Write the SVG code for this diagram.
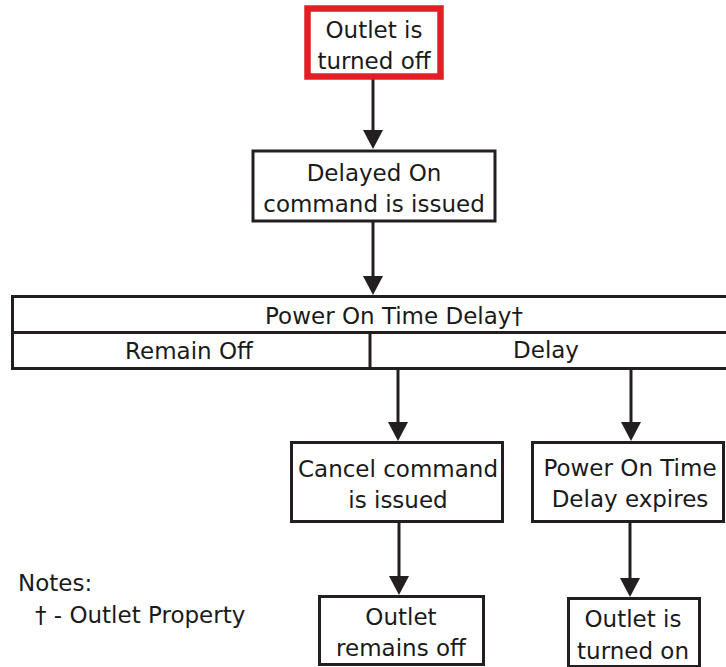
<svg xmlns="http://www.w3.org/2000/svg" width="726" height="667" viewBox="0 0 726 667">
  <style>
    .box { fill: #ffffff; stroke: #231f20; stroke-width: 3; }
    .start { fill: #ffffff; stroke: #e31e24; stroke-width: 6.5; }
    .edge { fill: none; stroke: #231f20; stroke-width: 3; }
    text { font-family: "DejaVu Sans", Verdana, sans-serif; font-size: 23px; fill: #1a1a1a; text-anchor: middle; }
    .note { text-anchor: start; }
  </style>
  <rect width="726" height="667" fill="#ffffff"/>

  <!-- connectors: shafts with filled triangular heads -->
  <g id="connectors" fill="#231f20">
    <line class="edge" x1="373" y1="79" x2="373" y2="132"/>
    <path d="M363,130 L383,130 L373,149 Z"/>
    <line class="edge" x1="373" y1="221" x2="373" y2="278"/>
    <path d="M363,276 L383,276 L373,295 Z"/>
    <line class="edge" x1="398" y1="369" x2="398" y2="424"/>
    <path d="M388,422 L408,422 L398,441 Z"/>
    <line class="edge" x1="631" y1="369" x2="631" y2="424"/>
    <path d="M621,422 L641,422 L631,441 Z"/>
    <line class="edge" x1="399" y1="522" x2="399" y2="578"/>
    <path d="M389,576 L409,576 L399,595 Z"/>
    <line class="edge" x1="630" y1="522" x2="630" y2="580"/>
    <path d="M620,578 L640,578 L630,597 Z"/>
  </g>

  <g id="outlet-off">
    <rect class="start" x="307.5" y="8.5" width="133" height="68"/>
    <text x="374" y="38">Outlet is</text>
    <text x="374" y="69">turned off</text>
  </g>

  <g id="delayed-on">
    <rect class="box" x="253" y="151" width="242" height="70"/>
    <text x="374" y="181">Delayed On</text>
    <text x="374" y="212">command is issued</text>
  </g>

  <g id="power-on-time-delay">
    <rect class="box" x="12.5" y="296.5" width="730" height="72"/>
    <line class="edge" x1="12" y1="332.5" x2="742" y2="332.5"/>
    <line class="edge" x1="370" y1="332" x2="370" y2="369"/>
    <text x="394" y="324">Power On Time Delay†</text>
    <text x="189" y="359">Remain Off</text>
    <text x="546" y="358">Delay</text>
  </g>

  <g id="cancel-issued">
    <rect class="box" x="291.5" y="442.5" width="211" height="79"/>
    <text x="398" y="477">Cancel command</text>
    <text x="398" y="508">is issued</text>
  </g>

  <g id="delay-expires">
    <rect class="box" x="532.5" y="442.5" width="191" height="79"/>
    <text x="630" y="476">Power On Time</text>
    <text x="630" y="507">Delay expires</text>
  </g>

  <g id="remains-off">
    <rect class="box" x="319.5" y="596.5" width="164" height="68"/>
    <text x="401" y="625">Outlet</text>
    <text x="401" y="656">remains off</text>
  </g>

  <g id="turned-on">
    <rect class="box" x="568.5" y="598.5" width="131" height="68"/>
    <text x="633" y="627">Outlet is</text>
    <text x="633" y="659">turned on</text>
  </g>

  <g id="notes">
    <text class="note" x="18" y="591">Notes:</text>
    <text class="note" x="35" y="623">† - Outlet Property</text>
  </g>
</svg>
